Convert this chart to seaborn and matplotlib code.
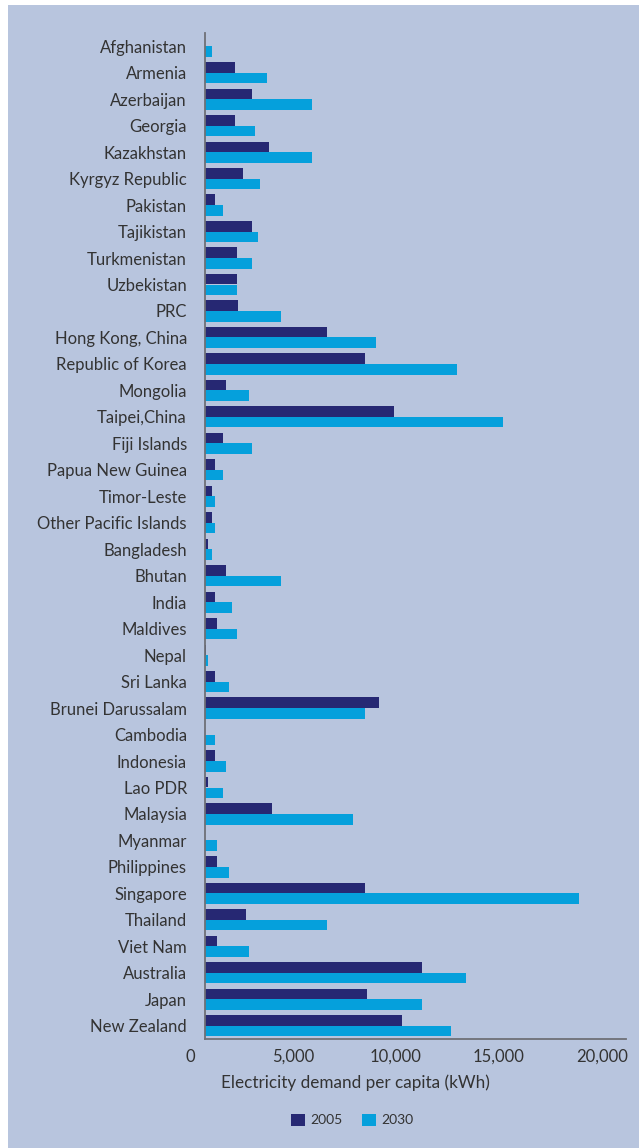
import matplotlib
matplotlib.use("Agg")
import matplotlib.pyplot as plt
import matplotlib.transforms as mtransforms
from matplotlib.patches import Rectangle, Patch
import seaborn as sns
import pandas as pd

# Electricity demand per capita (kWh) by economy
countries = [
    "Afghanistan", "Armenia", "Azerbaijan", "Georgia", "Kazakhstan",
    "Kyrgyz Republic", "Pakistan", "Tajikistan", "Turkmenistan", "Uzbekistan",
    "PRC", "Hong Kong, China", "Republic of Korea", "Mongolia", "Taipei,China",
    "Fiji Islands", "Papua New Guinea", "Timor-Leste", "Other Pacific Islands",
    "Bangladesh", "Bhutan", "India", "Maldives", "Nepal", "Sri Lanka",
    "Brunei Darussalam", "Cambodia", "Indonesia", "Lao PDR", "Malaysia",
    "Myanmar", "Philippines", "Singapore", "Thailand", "Viet Nam",
    "Australia", "Japan", "New Zealand",
]
demand_2005 = [
    0, 1450, 2280, 1450, 3100,
    1840, 480, 2280, 1550, 1550,
    1600, 5920, 7770, 1020, 9170,
    870, 480, 340, 340,
    150, 1020, 480, 580, 40, 480,
    8450, 0, 480, 150, 3250,
    0, 580, 7770, 1990, 580,
    10530, 7860, 9560,
]
demand_2030 = [
    340, 3000, 5190, 2430, 5190,
    2670, 870, 2570, 2280, 1550,
    3690, 8300, 12230, 2140, 14470,
    2280, 870, 480, 480,
    340, 3690, 1310, 1550, 150, 1165,
    7770, 480, 1020, 870, 7190,
    580, 1165, 18160, 5920, 2140,
    12670, 10530, 11940,
]
years = ["2005", "2030"]
x_ticks = [0, 5000, 10000, 15000, 20000]
x_label = "Electricity demand per capita (kWh)"

colors = {"2005": "#262873", "2030": "#05A0DC"}
bg = "#B8C5DE"
text_color = "#333333"
spine_color = "#6E7076"

df = pd.DataFrame({
    "country": countries * 2,
    "year": [years[0]] * len(countries) + [years[1]] * len(countries),
    "demand": demand_2005 + demand_2030,
})

sns.set_theme(style="white")
plt.rcParams["font.family"] = ["Lato", "DejaVu Sans"]

W, H = 639, 1148
fig = plt.figure(figsize=(W / 100, H / 100), dpi=100)
fig.patch.set_facecolor("white")
# coloured panel behind the chart, leaving a thin white margin top and left
fig.patches.append(Rectangle((8 / W, 0), 1 - 8 / W, 1 - 5 / H,
                             transform=fig.transFigure, facecolor=bg,
                             edgecolor="none", zorder=-10))

left, right, top, bottom = 205, 626, 33, 1039
ax = fig.add_axes([left / W, 1 - bottom / H, (right - left) / W, (bottom - top) / H])
ax.set_facecolor("none")

sns.barplot(data=df, y="country", x="demand", hue="year", orient="h",
            palette=colors, width=0.8, saturation=1, ax=ax, legend=False,
            order=countries, hue_order=years, linewidth=0, edgecolor="none")

ax.set_xlim(0, 20437)
ax.set_ylim(len(countries) - 0.5, -0.5)
ax.set_xticks(x_ticks)
ax.set_xticklabels([f"{v:,}" for v in x_ticks])
ax.set_xlabel("")
ax.set_ylabel("")

for side in ("top", "right"):
    ax.spines[side].set_visible(False)
for side in ("left", "bottom"):
    ax.spines[side].set_color(spine_color)
    ax.spines[side].set_linewidth(1.3)

ax.tick_params(axis="y", length=0, pad=13, labelsize=12, labelcolor=text_color)
ax.tick_params(axis="x", length=0, pad=7, labelsize=12, labelcolor=text_color)

# tick numbers sit slightly left of their gridpoints
shift = mtransforms.ScaledTranslation(-15 / 100, 0, fig.dpi_scale_trans)
for lbl in ax.get_xticklabels():
    lbl.set_transform(lbl.get_transform() + shift)

fig.text(355 / W, 1 - 1083 / H, x_label, ha="center", va="center",
         fontsize=12.3, color=text_color)

handles = [Patch(facecolor=colors[y], edgecolor="none", label=y) for y in years]
leg = fig.legend(handles=handles, loc="center", bbox_to_anchor=(352 / W, 1 - 1120 / H),
                 ncol=2, frameon=False, fontsize=10, handlelength=1.0,
                 handleheight=1.0, handletextpad=0.4, columnspacing=1.4)
for t in leg.get_texts():
    t.set_color(text_color)

fig.savefig("out.png", dpi=100, facecolor=fig.get_facecolor())
